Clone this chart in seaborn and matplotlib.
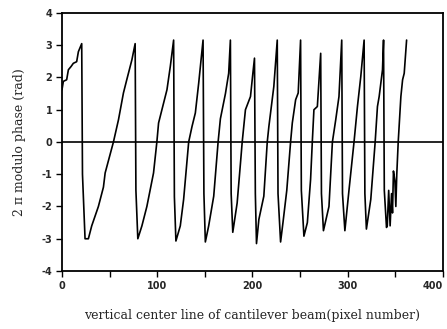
import matplotlib
matplotlib.use("Agg")
import matplotlib.pyplot as plt
import seaborn as sns
import numpy as np
import pandas as pd

# pixel number along vertical center line
pixel = [0, 1.4, 4.9, 6.7, 9.5, 11.9, 15.4, 17.2, 20.7,
         21.5, 24.2, 27.7,
         31.2, 34.7, 38.2, 43.5, 45.3, 54, 59.3, 64.5, 68, 73.4, 76.8,
         77.6, 79.6,
         83.9, 89.1, 96.1, 99.6, 101.4, 104.9, 110.2, 113.7, 117.2,
         118, 119.6,
         124.2, 127.7, 133, 136.5, 140, 143.5, 148.1,
         149, 150.5,
         154, 159.3, 163.9, 166.3, 171.6, 175, 176.8,
         177.6, 179.3,
         183.9, 187.4, 189.2, 192.6, 197.9, 200.4, 202.1,
         203, 204.2,
         206.7, 211.9, 215.5, 217.2, 222.4, 226,
         226.8, 229.5,
         232, 236, 240, 241.8, 245.3, 248, 250.5,
         251.3, 254,
         257.6, 261, 262.8, 264.5, 268.1, 271.6,
         272.4, 274.5,
         280.3, 283.9, 287.4, 290.8, 293.7,
         294.5, 297,
         301.4, 306.6, 310.2, 313.7, 317.2,
         318, 319.6,
         324.2, 328.8, 331.2, 333, 336.5, 337.6,
         338.4, 340.7,
         341.5, 343, 344.5, 346, 347, 348, 349.5, 350.5, 351.5,
         353, 355.8, 357.6, 359.3, 361.8]

# wrapped phase (rad)
phase = [1.62, 1.88, 1.93, 2.24, 2.34, 2.44, 2.49, 2.8, 3.05,
         -1.0, -3.0, -3.0,
         -2.6, -2.3, -2.0, -1.4, -0.96, 0.0, 0.69, 1.52, 1.93, 2.55, 3.05,
         -1.5, -3.0,
         -2.6, -2.0, -0.96, 0.0, 0.59, 1.0, 1.62, 2.34, 3.16,
         -1.7, -3.07,
         -2.6, -1.78, 0.0, 0.48, 0.9, 1.82, 3.16,
         -1.6, -3.1,
         -2.6, -1.68, 0.0, 0.72, 1.5, 2.13, 3.16,
         -1.6, -2.8,
         -1.89, -0.65, 0.0, 1.0, 1.41, 2.13, 2.6,
         -1.6, -3.15,
         -2.4, -1.68, 0.0, 0.48, 1.72, 3.16,
         -1.6, -3.1,
         -2.5, -1.5, 0.0, 0.59, 1.31, 1.52, 3.16,
         -1.5, -2.92,
         -2.5, -1.16, 0.0, 1.0, 1.1, 2.75,
         -1.6, -2.75,
         -2.0, 0.0, 0.69, 1.41, 3.16,
         -1.6, -2.75,
         -1.47, 0.0, 1.1, 2.03, 3.16,
         -1.6, -2.7,
         -1.78, 0.0, 1.1, 1.41, 2.24, 3.16,
         -1.5, -2.65,
         -2.6, -1.5, -2.6, -1.6, -2.2, -0.9, -1.2, -2.0, -1.0,
         0.0, 1.41, 1.93, 2.13, 3.16]

xticks = [0, 100, 200, 300, 400]
yticks = [-4, -3, -2, -1, 0, 1, 2, 3, 4]

sns.set_style("ticks")
df = pd.DataFrame({"pixel": pixel, "phase": phase})

fig = plt.figure(figsize=(4.47, 3.29), dpi=100)
ax = fig.add_axes([0.1387, 0.1763, 0.991 - 0.1387, 0.9605 - 0.1763])

ax.axhline(0, color="black", lw=1.2, zorder=1)
sns.lineplot(data=df, x="pixel", y="phase", ax=ax, color="black",
             lw=1.2, sort=False, estimator=None)

ax.set_xlim(0, 400)
ax.set_ylim(-4, 4)
ax.set_xticks(xticks)
ax.set_xticks(np.arange(50, 400, 100), minor=True)
ax.set_yticks(yticks)
ax.set_xticklabels([str(v) for v in xticks], fontsize=7, fontweight="bold",
                   family="DejaVu Sans")
ax.set_yticklabels([str(v) for v in yticks], fontsize=7, fontweight="bold",
                   family="DejaVu Sans")
ax.tick_params(axis="both", which="both", direction="out", length=4,
               width=1.0, color="black", pad=3)
# keep the last x tick label inside the canvas
ax.get_xticklabels()[-1].set_horizontalalignment("right")
ax.get_xticklabels()[-1].set_x(400)

for s in ax.spines.values():
    s.set_visible(True)
    s.set_color("black")
    s.set_linewidth(1.3)

ax.set_xlabel("vertical center line of cantilever beam(pixel number)",
              fontsize=9, family="DejaVu Serif", labelpad=13)
ax.set_ylabel("2 \u03c0 modulo phase (rad)", fontsize=9,
              family="DejaVu Serif", labelpad=11)

fig.savefig("out.png", dpi=100)
